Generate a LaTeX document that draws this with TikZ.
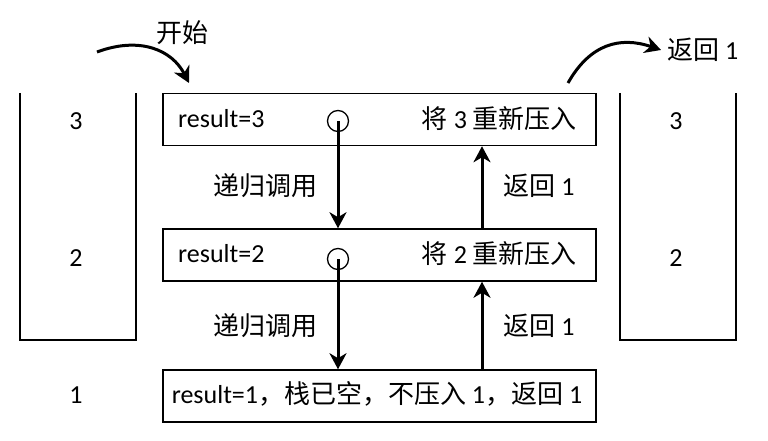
\documentclass[tikz,border=0pt]{standalone}
\usepackage{fontspec}
\setmainfont{Carlito}
\newfontfamily\cjk{Noto Sans CJK SC}
\usetikzlibrary{arrows.meta}
\newcommand{\zh}[1]{{\cjk #1}}
\begin{document}
\begin{tikzpicture}[x=1pt,y=-1pt,
  every node/.style={font=\fontsize{26}{30}\selectfont, inner sep=0pt},
  box/.style={draw, line width=1.5pt, minimum width=433pt, minimum height=52pt},
  ring/.style={circle, draw, line width=1.3pt, minimum size=21pt},
  arr/.style={line width=3pt, -{Stealth[length=16pt,width=17pt,inset=5pt]}},
  stack/.style={line width=1.5pt}]
\useasboundingbox (0,0) rectangle (768,441);
% boxes
\node[box] (b1) at (379.5,119.5) {};
\node[box] (b2) at (379.5,255) {};
\node[box] (b3) at (379.5,396) {};
% box texts
\node[anchor=west] (t1) at (178,119) {result=3};
\node[anchor=east] (r1) at (577,119) {\zh{将} 3 \zh{重新压入}};
\node[anchor=west] (t2) at (178,254) {result=2};
\node[anchor=east] (r2) at (577,254) {\zh{将} 2 \zh{重新压入}};
\node (t3) at (377,394) {result=1\zh{，栈已空，不压入} 1\zh{，返回} 1};
% circles
\node[ring] (c1) at (338,121) {};
\node[ring] (c2) at (338,259) {};
% down arrows
\draw[arr] (c1.center) -- (c1 |- b2.north);
\draw[arr] (c2.center) -- (c2 |- b3.north);
% up arrows
\coordinate (u) at (482,0);
\draw[arr] (u |- b3.north) -- (u |- b2.south);
\draw[arr] (u |- b2.north) -- (u |- b1.south);
% labels
\node (l1) at (265,186) {\zh{递归调用}};
\node (l2) at (265,326) {\zh{递归调用}};
\node (l3) at (539,186) {\zh{返回} 1};
\node (l4) at (539,326) {\zh{返回} 1};
% stacks
\draw[stack] (20,93) -- (20,340) -- (136,340) -- (136,93);
\draw[stack] (620,93) -- (620,340) -- (736,340) -- (736,93);
\node (s3) at (76,121) {3};
\node (s2) at (76,258) {2};
\node (s1) at (76,395) {1};
\node (p3) at (676,121) {3};
\node (p2) at (676,258) {2};
% top arrows
\node (start) at (182,33) {\zh{开始}};
\coordinate (a0) at (97,52);
\coordinate (a1) at (189,83);
\draw[arr] (a0) .. controls (140,36) and (172,50) .. (a1);
\coordinate (e0) at (568,83);
\coordinate (e1) at (661,50);
\draw[arr] (e0) .. controls (590,44) and (620,36) .. (e1);
\node[anchor=west] (ret) at (667,50) {\zh{返回} 1};
\end{tikzpicture}
\end{document}
